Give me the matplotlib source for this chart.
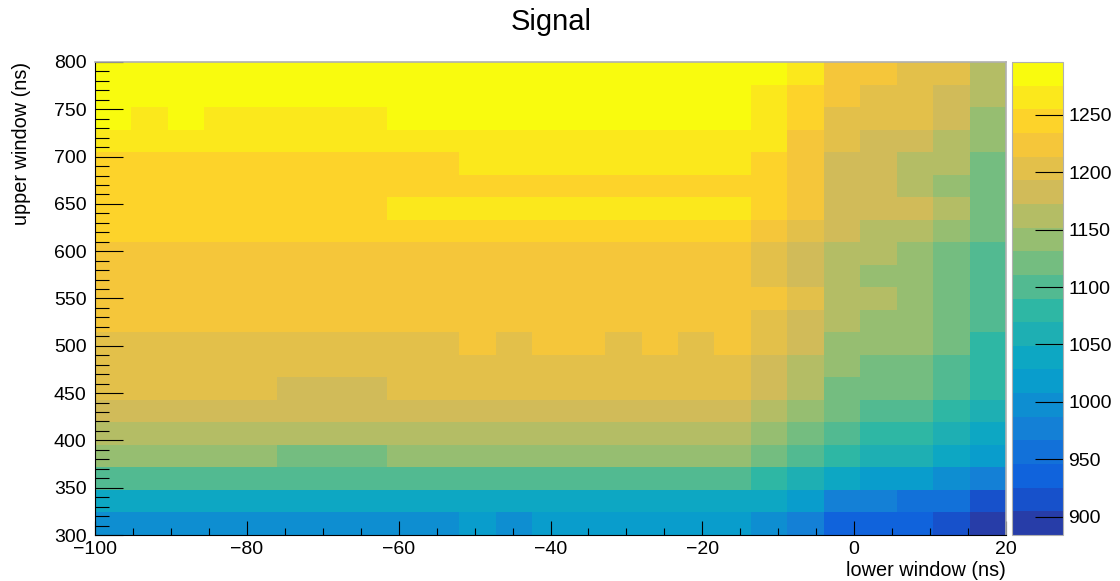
import numpy as np
import matplotlib
matplotlib.use('Agg')
import matplotlib.pyplot as plt
from matplotlib.colors import LinearSegmentedColormap, ListedColormap, BoundaryNorm
from matplotlib.ticker import MultipleLocator

plt.rcParams['font.family'] = ['Liberation Sans', 'DejaVu Sans']

# histogram binning: 25 bins in lower window, 21 bins in upper window
lower_edges = np.linspace(-100, 20, 26)
upper_edges = np.linspace(300, 800, 22)

# signal per bin, first row = top of the plot (upper window near 800 ns)
signal = [
    [1286] * 18 + [1286, 1265, 1224, 1224, 1203, 1203, 1162],
    [1286] * 18 + [1265, 1245, 1224, 1203, 1203, 1183, 1162],
    [1286, 1265, 1286] + [1265] * 5 + [1286] * 10 + [1265, 1245, 1203, 1203, 1203, 1183, 1142],
    [1265] * 18 + [1265, 1224, 1203, 1183, 1183, 1162, 1142],
    [1245] * 10 + [1265] * 8 + [1245, 1224, 1183, 1183, 1162, 1162, 1121],
    [1245] * 18 + [1245, 1224, 1183, 1183, 1162, 1142, 1121],
    [1245] * 8 + [1265] * 10 + [1245, 1224, 1183, 1183, 1183, 1162, 1121],
    [1245] * 18 + [1224, 1203, 1183, 1162, 1162, 1142, 1121],
    [1224] * 18 + [1203, 1183, 1162, 1162, 1142, 1121, 1100],
    [1224] * 18 + [1203, 1183, 1162, 1142, 1142, 1121, 1100],
    [1224] * 18 + [1224, 1203, 1162, 1162, 1142, 1121, 1100],
    [1224] * 18 + [1203, 1183, 1162, 1142, 1142, 1121, 1100],
    [1203] * 10 + [1224, 1203, 1224, 1224, 1203, 1224, 1203, 1224] + [1203, 1183, 1142, 1142, 1142, 1121, 1080],
    [1203] * 18 + [1183, 1162, 1142, 1121, 1121, 1100, 1080],
    [1203] * 5 + [1183] * 3 + [1203] * 10 + [1183, 1162, 1121, 1121, 1121, 1100, 1080],
    [1183] * 18 + [1162, 1142, 1121, 1100, 1100, 1080, 1059],
    [1162] * 18 + [1142, 1121, 1100, 1080, 1080, 1059, 1039],
    [1142] * 5 + [1121] * 3 + [1142] * 10 + [1121, 1100, 1080, 1059, 1059, 1039, 1018],
    [1100] * 18 + [1080, 1059, 1039, 1018, 1018, 997, 977],
    [1039] * 18 + [1039, 1018, 977, 977, 956, 956, 915],
    [997] * 10 + [1018, 997] + [1018] * 6 + [997, 977, 936, 936, 936, 915, 894],
]
z = np.array(signal)[::-1]

# ROOT kBird palette, 20 contour levels
bird_rgb = [
    (0.2082, 0.1664, 0.5293), (0.0592, 0.3599, 0.8684), (0.0780, 0.5041, 0.8385),
    (0.0232, 0.6419, 0.7914), (0.1802, 0.7178, 0.6425), (0.5301, 0.7492, 0.4662),
    (0.8186, 0.7328, 0.3499), (0.9956, 0.7862, 0.1968), (0.9764, 0.9832, 0.0539),
]
bird = LinearSegmentedColormap.from_list('bird', bird_rgb, N=255)
ncont = 20
cmap = ListedColormap([bird(int((i + 0.99) * 255 / ncont)) for i in range(ncont)])
zmin, zmax = 884, 1296
norm = BoundaryNorm(np.linspace(zmin, zmax, ncont + 1), ncont)

W, H = 1120, 581
fig = plt.figure(figsize=(W / 100, H / 100), dpi=100)
ax = fig.add_axes([95 / W, 46 / H, 911 / W, 473 / H])
mesh = ax.pcolormesh(lower_edges, upper_edges, z, cmap=cmap, norm=norm)

ax.set_xlim(-100, 20)
ax.set_ylim(300, 800)
ax.xaxis.set_major_locator(MultipleLocator(20))
ax.xaxis.set_minor_locator(MultipleLocator(5))
ax.yaxis.set_major_locator(MultipleLocator(50))
ax.yaxis.set_minor_locator(MultipleLocator(10))
ax.tick_params(axis='both', which='both', direction='in', labelsize=14, width=0.8)
ax.tick_params(axis='x', which='major', length=10, pad=4)
ax.tick_params(axis='x', which='minor', length=5)
ax.tick_params(axis='y', which='major', length=20, pad=6)
ax.tick_params(axis='y', which='minor', length=10)
for s in ['top', 'right']:
    ax.spines[s].set_color('#b0b0b0')
    ax.spines[s].set_linewidth(1.2)

fig.text(1006 / W, 1 / H, 'lower window (ns)', ha='right', va='bottom', fontsize=14.3)
fig.text(22 / W, 1 - 62 / H, 'upper window (ns)', ha='center', va='top',
         rotation=90, fontsize=14.3)
fig.text(551 / W, 1 - 22 / H, 'Signal', ha='center', va='center', fontsize=21)

cax = fig.add_axes([1012 / W, 46 / H, 51 / W, 473 / H])
cb = fig.colorbar(mesh, cax=cax, ticks=np.arange(900, 1251, 50))
cb.ax.minorticks_off()
cb.ax.tick_params(direction='in', length=20, width=0.8, labelsize=14, pad=4)
cb.outline.set_edgecolor('#b0b0b0')

fig.savefig('out.png', dpi=100)
